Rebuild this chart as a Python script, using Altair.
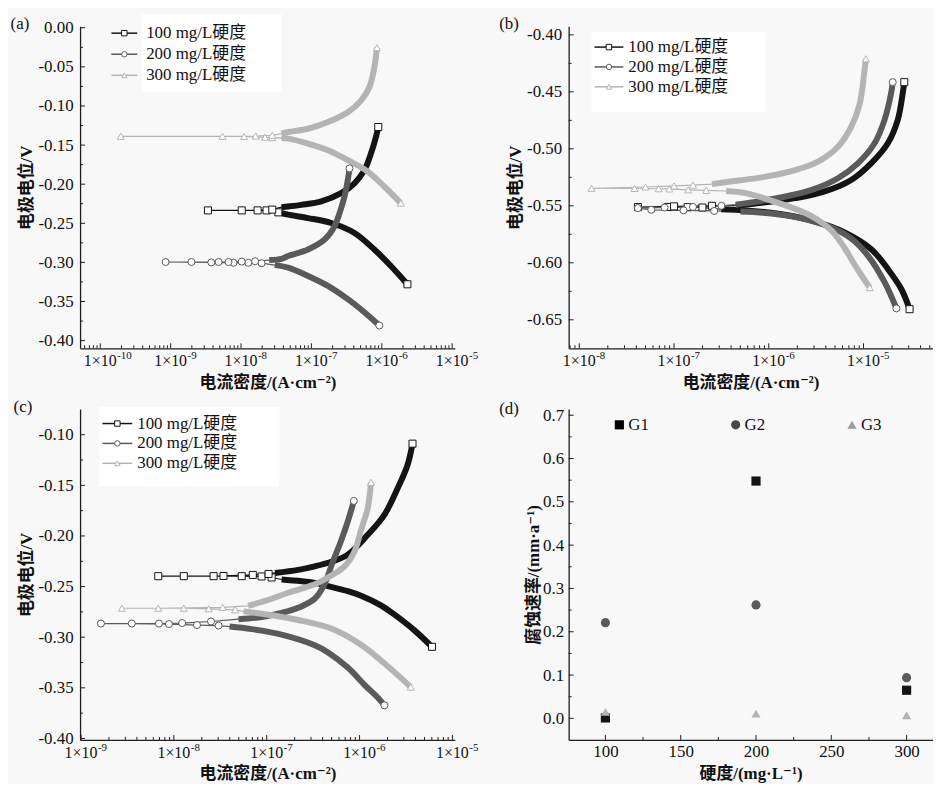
import math
import altair as alt
import pandas as pd

# ---------------- shared series definitions ----------------
SERIES = ["100 mg/L硬度", "200 mg/L硬度", "300 mg/L硬度"]
COLORS = ["#141414", "#5a5a5a", "#b4b4b4"]
SHAPES = ["square", "circle", "triangle-up"]

X_TITLE = "电流密度/(A·cm⁻²)"
Y_TITLE = "电极电位/V"
D_X_TITLE = "硬度/(mg·L⁻¹)"
D_Y_TITLE = "腐蚀速率/(mm·a⁻¹)"

# Each curve: (log10 current density, potential V); cathodic branch (far -> near Ecorr),
# points around Ecorr, anodic branch (near -> far)
# ---------------- panel (a) ----------------
a100_cath = [(-5.636, -0.328), (-5.871, -0.3046), (-6.106, -0.2835), (-6.388, -0.2623), (-6.719, -0.2496),
             (-7.048, -0.2433), (-7.33, -0.239), (-7.425, -0.237)]
a100_tip = [(-7.47, -0.236), (-7.637, -0.2335), (-7.99, -0.2335), (-8.47, -0.2335), (-7.764, -0.2335), (-7.556, -0.2325)]
a100_anod = [(-7.425, -0.2294), (-7.33, -0.2285), (-7.143, -0.2264), (-6.86, -0.222), (-6.578, -0.2115),
             (-6.388, -0.1989), (-6.247, -0.182), (-6.154, -0.1608), (-6.083, -0.1396), (-6.05, -0.1269)]

a200_cath = [(-6.035, -0.3807), (-6.247, -0.3638), (-6.483, -0.347), (-6.766, -0.33), (-7.048, -0.3173),
             (-7.331, -0.3067), (-7.52, -0.3035)]
a200_tip = [(-7.708, -0.301), (-7.896, -0.3005), (-8.107, -0.3005), (-8.422, -0.300), (-9.072, -0.2995),
            (-8.705, -0.2995), (-8.319, -0.2995), (-8.178, -0.2995), (-7.99, -0.299), (-7.8, -0.2985)]
a200_anod = [(-7.6, -0.297), (-7.425, -0.2955), (-7.331, -0.2919), (-7.048, -0.2835), (-6.813, -0.2708),
             (-6.671, -0.2538), (-6.6, -0.237), (-6.53, -0.2157), (-6.483, -0.1946), (-6.459, -0.1798)]

a300_cath = [(-5.73, -0.2242), (-5.965, -0.203), (-6.2, -0.184), (-6.483, -0.1693), (-6.766, -0.1566),
             (-7.048, -0.148), (-7.331, -0.1418), (-7.425, -0.141)]
a300_tip = [(-7.556, -0.1405), (-7.66, -0.14), (-7.956, -0.139), (-9.708, -0.1388), (-8.263, -0.1388),
            (-7.792, -0.1385), (-7.556, -0.1375)]
a300_anod = [(-7.425, -0.1354), (-7.331, -0.1333), (-7.048, -0.1291), (-6.766, -0.1206), (-6.483, -0.1079),
             (-6.295, -0.0931), (-6.177, -0.0761), (-6.106, -0.0508), (-6.069, -0.0254)]

# ---------------- panel (b) ----------------
b100_cath = [(-4.514, -0.6407), (-4.6, -0.6232), (-4.74, -0.6058), (-4.915, -0.5883), (-5.195, -0.5735),
             (-5.545, -0.563), (-5.9, -0.557), (-6.25, -0.554), (-6.5, -0.553)]
b100_tip = [(-6.7, -0.5515), (-6.856, -0.5512), (-7.066, -0.551), (-7.381, -0.5511), (-7.0, -0.5505), (-6.6, -0.55)]
b100_anod = [(-6.3, -0.5495), (-5.967, -0.5462), (-5.72, -0.5433), (-5.41, -0.5374), (-5.13, -0.5273),
             (-4.92, -0.5127), (-4.745, -0.4953), (-4.64, -0.475), (-4.587, -0.4517), (-4.57, -0.4415)]

b200_cath = [(-4.653, -0.64), (-4.775, -0.6174), (-4.95, -0.5941), (-5.125, -0.579), (-5.37, -0.568),
             (-5.7, -0.56), (-6.0, -0.5565), (-6.3, -0.555)]
b200_tip = [(-6.577, -0.5545), (-6.9, -0.554), (-7.24, -0.5535), (-7.381, -0.552), (-7.1, -0.5515),
            (-6.8, -0.551), (-6.5, -0.55)]
b200_anod = [(-6.35, -0.549), (-6.14, -0.5465), (-5.825, -0.5418), (-5.545, -0.536), (-5.27, -0.5258),
             (-5.06, -0.5127), (-4.885, -0.4953), (-4.78, -0.475), (-4.71, -0.4517), (-4.692, -0.4415)]

b300_cath = [(-4.935, -0.6218), (-5.03, -0.61), (-5.12, -0.598), (-5.2, -0.587), (-5.335, -0.572),
             (-5.545, -0.5592), (-5.894, -0.5476), (-6.245, -0.5389), (-6.45, -0.537)]
b300_tip = [(-6.66, -0.5365), (-6.85, -0.536), (-7.05, -0.5352), (-7.162, -0.535), (-7.417, -0.5348),
            (-7.871, -0.5346), (-7.3, -0.5335), (-7.0, -0.5325), (-6.8, -0.5318)]
b300_anod = [(-6.6, -0.531), (-6.387, -0.5285), (-6.245, -0.527), (-6.035, -0.5244), (-5.72, -0.5186),
             (-5.48, -0.5113), (-5.27, -0.4982), (-5.13, -0.4808), (-5.04, -0.4604), (-4.99, -0.4314),
             (-4.975, -0.421)]

# ---------------- panel (c) ----------------
c100_cath = [(-5.22, -0.3095), (-5.412, -0.293), (-5.627, -0.2775), (-5.77, -0.2685), (-5.984, -0.259),
             (-6.127, -0.2545), (-6.34, -0.2495), (-6.483, -0.2463), (-6.84, -0.243)]
c100_tip = [(-6.947, -0.241), (-7.055, -0.24), (-7.269, -0.2397), (-7.572, -0.2397), (-8.168, -0.2397),
            (-7.893, -0.2397), (-7.465, -0.2395), (-7.15, -0.2385), (-6.98, -0.2375)]
c100_anod = [(-6.911, -0.2365), (-6.662, -0.2335), (-6.483, -0.23), (-6.305, -0.2255), (-6.127, -0.2184),
             (-5.912, -0.1988), (-5.733, -0.1791), (-5.591, -0.153), (-5.484, -0.1301), (-5.43, -0.1088)]

c200_cath = [(-5.733, -0.3673), (-5.8, -0.36), (-5.947, -0.347), (-6.127, -0.33), (-6.34, -0.315),
             (-6.483, -0.308), (-6.84, -0.2975), (-7.162, -0.292), (-7.4, -0.2895)]
c200_tip = [(-7.518, -0.2885), (-7.751, -0.288), (-8.053, -0.287), (-8.453, -0.2865), (-8.785, -0.2865),
            (-8.161, -0.2865), (-7.911, -0.286), (-7.6, -0.2845)]
c200_anod = [(-7.304, -0.2822), (-7.09, -0.2806), (-6.84, -0.276), (-6.662, -0.271), (-6.483, -0.262),
             (-6.38, -0.248), (-6.29, -0.226), (-6.2, -0.205), (-6.127, -0.1857), (-6.062, -0.1654)]

c300_cath = [(-5.449, -0.3493), (-5.6, -0.3365), (-5.75, -0.3245), (-5.984, -0.3075), (-6.305, -0.2915),
             (-6.662, -0.283), (-7.018, -0.2773), (-7.25, -0.2745)]
c300_tip = [(-7.34, -0.273), (-7.625, -0.272), (-7.893, -0.2714), (-8.56, -0.2714), (-8.168, -0.2714),
            (-7.475, -0.2705)]
c300_anod = [(-7.2, -0.269), (-7.018, -0.2642), (-6.769, -0.2561), (-6.483, -0.2478), (-6.305, -0.239),
             (-6.162, -0.23), (-6.054, -0.215), (-5.984, -0.194), (-5.912, -0.1726), (-5.877, -0.147)]

# ---------------- panel (d) ----------------
GROUPS = ["G1", "G2", "G3"]
G_COLORS = ["#000000", "#474747", "#9c9c9c"]
G_SHAPES = ["square", "circle", "triangle-up"]
HARDNESS = [100, 200, 300]
G1_RATE = [0.001, 0.548, 0.065]
G2_RATE = [0.221, 0.262, 0.094]
G3_RATE = [0.015, 0.011, 0.007]

# axis tick values
A_XEXP = [-10, -9, -8, -7, -6, -5]
B_XEXP = [-8, -7, -6, -5]
C_XEXP = [-9, -8, -7, -6, -5]
A_YTICKS = [0.0, -0.05, -0.10, -0.15, -0.20, -0.25, -0.30, -0.35, -0.40]
B_YTICKS = [-0.40, -0.45, -0.50, -0.55, -0.60, -0.65]
C_YTICKS = [-0.10, -0.15, -0.20, -0.25, -0.30, -0.35, -0.40]
D_XTICKS = [100, 150, 200, 250, 300]
D_YTICKS = [0.0, 0.1, 0.2, 0.3, 0.4, 0.5, 0.6, 0.7]

FONT = "Liberation Serif, DejaVu Serif, Noto Sans CJK SC"
AX = "#1e1e1e"
Y_EXPR2 = "replace(format(datum.value, '.2f'), '\u2212', '-')"


def make_axis(title, values, expr, label_pad, title_pad, label_size, labels=True):
    kw = dict(title=title, values=values, labels=labels, ticks=False, grid=False,
              domainColor=AX, domainWidth=1.3, labelFont=FONT, labelFontSize=label_size,
              labelColor="#111111", labelPadding=label_pad, labelFlush=False, labelOverlap=False,
              titleFont=FONT, titleFontSize=17, titleFontWeight="bold", titleColor="#111111",
              titlePadding=title_pad)
    if expr:
        kw["labelExpr"] = expr
    return alt.Axis(**kw)


def curve_rows(curves):
    rows = []
    for name, (cath, tip, anod) in zip(SERIES, curves):
        k = 0
        for kind, pts in (("cath", cath), ("tip", tip), ("anod", anod)):
            for j, (lg, e) in enumerate(pts):
                end = (kind == "cath" and j == 0) or (kind == "anod" and j == len(pts) - 1)
                rows.append({"series": name, "kind": kind, "branch": f"{name}-{kind}", "order": k,
                             "i": 10.0 ** lg, "E": e, "end": bool(end)})
                k += 1
    return pd.DataFrame(rows)


def tick_rules(field, enc, vals, length, horizontal_axis, h):
    ch = alt.Chart(pd.DataFrame({field: vals})).mark_rule(color=AX, strokeWidth=1)
    if horizontal_axis:
        return ch.encode(x=enc, y=alt.value(h), y2=alt.value(h - length))
    return ch.encode(y=enc, x=alt.value(0), x2=alt.value(length))


def tag_layer(text, x, y):
    return alt.Chart(pd.DataFrame({"t": [text]})).mark_text(
        align="center", baseline="middle", font=FONT, fontSize=17, color="#111111"
    ).encode(x=alt.value(x), y=alt.value(y), text="t:N")


def box_layer(x1, x2, y1, y2):
    return alt.Chart(pd.DataFrame({"b": [0]})).mark_rect(color="white").encode(
        x=alt.value(x1), x2=alt.value(x2), y=alt.value(y1), y2=alt.value(y2))


def legend_layers(x0, y0, dy, line_len, text_dx):
    out = []
    for k, name in enumerate(SERIES):
        y = y0 + k * dy
        one = alt.Chart(pd.DataFrame({"label": [name]}))
        out.append(one.mark_rule(color=COLORS[k], strokeWidth=1.5).encode(
            x=alt.value(x0), x2=alt.value(x0 + line_len), y=alt.value(y)))
        out.append(one.mark_point(shape=SHAPES[k], size=30, filled=True, fill="white", stroke=COLORS[k],
                                  strokeWidth=1, opacity=1).encode(x=alt.value(x0 + line_len / 2), y=alt.value(y)))
        out.append(one.mark_text(align="left", baseline="middle", font=FONT, fontSize=17, color="#111111").encode(
            x=alt.value(x0 + text_dx), y=alt.value(y), text="label:N"))
    return out


def log_panel(curves, xlog, ydom, xexps, yticks, w, h, tag, tag_xy, leg, box):
    df = curve_rows(curves)
    X = alt.X("i:Q", scale=alt.Scale(type="log", domain=[10.0 ** xlog[0], 10.0 ** xlog[1]], nice=False),
              axis=make_axis(X_TITLE, [10.0 ** e for e in xexps], None, 4, 26, 16, labels=False))
    Y = alt.Y("E:Q", scale=alt.Scale(domain=ydom, nice=False, zero=False),
              axis=make_axis(Y_TITLE, yticks, Y_EXPR2, 7, 2, 17))
    color = alt.Color("series:N", scale=alt.Scale(domain=SERIES, range=COLORS), legend=None)
    stroke = alt.Stroke("series:N", scale=alt.Scale(domain=SERIES, range=COLORS), legend=None)
    shape = alt.Shape("series:N", scale=alt.Scale(domain=SERIES, range=SHAPES), legend=None)

    base = alt.Chart(df)
    thin = base.mark_line(strokeWidth=1.2).encode(x=X, y=Y, color=color, detail="series:N", order="order:Q")
    band = base.transform_filter("datum.kind != 'tip'").mark_line(
        strokeWidth=6, interpolate="catmull-rom", strokeCap="butt").encode(
        x=X, y=Y, color=color, detail="branch:N", order="order:Q")
    tipm = base.transform_filter("datum.kind == 'tip' || datum.end").mark_point(
        filled=True, size=50, strokeWidth=1, opacity=1).encode(
        x=X, y=Y, shape=shape, stroke=stroke, fill=alt.value("white"))

    # x tick labels "1×10" with a raised exponent
    lab = alt.Chart(pd.DataFrame({"i": [10.0 ** e for e in xexps], "base": ["1×10"] * len(xexps),
                                  "exp": [str(e) for e in xexps]}))
    lab_base = lab.mark_text(align="center", baseline="middle", font=FONT, fontSize=16, color="#111111").encode(
        x=X, y=alt.value(h + 13), text="base:N")
    lab_exp = lab.mark_text(align="left", baseline="middle", font=FONT, fontSize=11, dx=17, color="#111111").encode(
        x=X, y=alt.value(h + 8), text="exp:N")

    # inside ticks
    lo, hi = xlog
    minor_x = [m * 10.0 ** e for e in range(math.floor(lo), math.ceil(hi) + 1) for m in range(2, 10)
               if lo <= math.log10(m * 10.0 ** e) <= hi]
    ystep = yticks[1] - yticks[0]
    minor_y = [v + ystep / 2 for v in yticks[:-1]]
    ticks = [
        tick_rules("i", X, [10.0 ** e for e in xexps], 5, True, h),
        tick_rules("i", X, minor_x, 3, True, h),
        tick_rules("E", Y, yticks, 5, False, h),
        tick_rules("E", Y, minor_y, 3, False, h),
    ]
    layers = ([box_layer(*box), thin, band, tipm] + ticks + [lab_base, lab_exp, tag_layer(tag, *tag_xy)]
              + legend_layers(*leg))
    return alt.layer(*layers).properties(width=w, height=h)


pa = log_panel([(a100_cath, a100_tip, a100_anod), (a200_cath, a200_tip, a200_anod), (a300_cath, a300_tip, a300_anod)],
               (-10.287, -4.962), [-0.4098, 0.002], A_XEXP, A_YTICKS, 377, 324,
               "(a)", (-60.5, -2), (31.5, 7, 21.2, 26, 35), (62, 203, -12, 66))
pb = log_panel([(b100_cath, b100_tip, b100_anod), (b200_cath, b200_tip, b200_anod), (b300_cath, b300_tip, b300_anod)],
               (-8.112, -4.272), [-0.675, -0.3924], B_XEXP, B_YTICKS, 366, 324,
               "(b)", (-60, -2), (26, 21, 20, 29, 34), (23, 198, 6, 86))
pc = log_panel([(c100_cath, c100_tip, c100_anod), (c200_cath, c200_tip, c200_anod), (c300_cath, c300_tip, c300_anod)],
               (-9.01, -4.974), [-0.4015, -0.0745], C_XEXP, C_YTICKS, 377, 333,
               "(c)", (-57.5, -2), (22.5, 14.7, 20, 30, 35), (19, 200, -2, 78))

# ---------------- panel (d) ----------------
d_rows = []
for g, vals in zip(GROUPS, [G1_RATE, G2_RATE, G3_RATE]):
    for hh, v in zip(HARDNESS, vals):
        d_rows.append({"group": g, "h": hh, "v": v})
d_df = pd.DataFrame(d_rows)
DW, DH = 366, 333
dX = alt.X("h:Q", scale=alt.Scale(domain=[75.6, 317.2], nice=False, zero=False),
           axis=make_axis(D_X_TITLE, D_XTICKS, "format(datum.value, 'd')", 4, 6, 17))
dY = alt.Y("v:Q", scale=alt.Scale(domain=[-0.0498, 0.7145], nice=False, zero=False),
           axis=make_axis(D_Y_TITLE, D_YTICKS, "format(datum.value, '.1f')", 5, 0, 17))
d_pts = alt.Chart(d_df).mark_point(filled=True, size=85, opacity=1).encode(
    x=dX, y=dY,
    color=alt.Color("group:N", scale=alt.Scale(domain=GROUPS, range=G_COLORS), legend=None),
    shape=alt.Shape("group:N", scale=alt.Scale(domain=GROUPS, range=G_SHAPES), legend=None))
d_ticks = [
    tick_rules("h", dX, D_XTICKS, 5, True, DH),
    tick_rules("h", dX, [125, 175, 225, 275], 3, True, DH),
    tick_rules("v", dY, D_YTICKS, 5, False, DH),
    tick_rules("v", dY, [0.05, 0.15, 0.25, 0.35, 0.45, 0.55, 0.65], 3, False, DH),
]
d_leg = []
for k, g in enumerate(GROUPS):
    one = alt.Chart(pd.DataFrame({"label": [g]}))
    d_leg.append(one.mark_point(shape=G_SHAPES[k], size=85, filled=True, color=G_COLORS[k], opacity=1).encode(
        x=alt.value(51 + k * 117), y=alt.value(16)))
    d_leg.append(one.mark_text(align="left", baseline="middle", font=FONT, fontSize=17, color="#111111").encode(
        x=alt.value(60 + k * 117), y=alt.value(16), text="label:N"))
pd_ = alt.layer(d_pts, *d_ticks, tag_layer("(d)", -60, 0), *d_leg).properties(width=DW, height=DH)

chart = alt.concat(pa, pb, pc, pd_, columns=2, spacing={"row": 61, "column": 114.5},
                   bounds="flush", align="each").properties(
    padding={"left": 2.5, "top": 4, "right": 0, "bottom": 0}, background="#f8f8f8"
).configure_view(stroke=None)

chart.save("out.html", embed_options={"renderer": "svg", "actions": False})
